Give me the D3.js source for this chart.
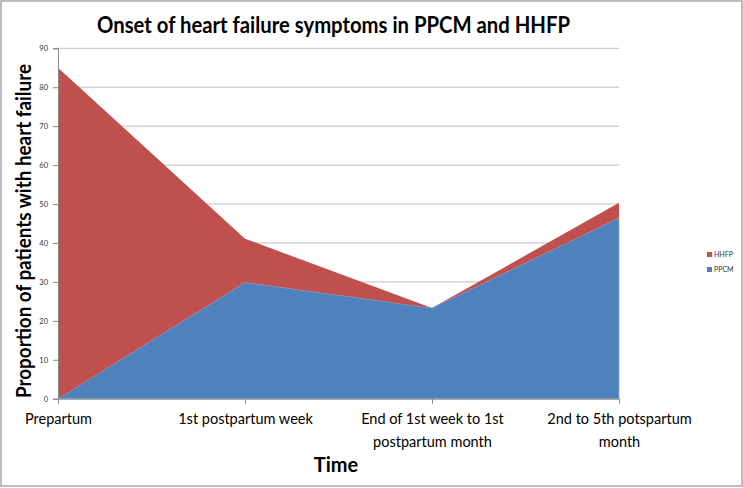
<!DOCTYPE html>
<html><head><meta charset="utf-8">
<script src="https://cdn.jsdelivr.net/npm/d3@7"></script>
<style>
html,body{margin:0;padding:0;background:#fff;}
svg{display:block;}
</style></head>
<body>
<script>
const categories = ["Prepartum","1st postpartum week","End of 1st week to 1st postpartum month","2nd to 5th potspartum month"];
const categoryLines = [["Prepartum"],["1st postpartum week"],["End of 1st week to 1st","postpartum month"],["2nd to 5th potspartum","month"]];
const ppcm = [0, 29.9, 23.3, 46.5];
const hhfp = [85, 11.2, 0, 3.8];
const seriesNames = ["PPCM","HHFP"];
const yTicks = [0,10,20,30,40,50,60,70,80,90];
const title = "Onset of heart failure symptoms in PPCM and HHFP";
const yTitle = "Proportion of patients with heart failure";
const xTitle = "Time";

const W = 743, H = 488;
const m = {left:58, top:48.3, right:124, bottom:89.3};
const colors = {PPCM:"#4F81BD", HHFP:"#C0504D"};
const font = "Lato, 'Open Sans', sans-serif";

const svg = d3.select("body").append("svg").attr("width",W).attr("height",H);
svg.append("rect").attr("x",1).attr("y",1).attr("width",W-2).attr("height",H-3)
  .attr("fill","#fff").attr("stroke","#a6a6a6").attr("stroke-width",1.5);

const x = d3.scalePoint().domain(categories).range([m.left, W-m.right]);
const y = d3.scaleLinear().domain([0,90]).range([H-m.bottom, m.top]);

// gridlines
svg.append("g").selectAll("line").data(yTicks.filter(d=>d>0)).join("line")
  .attr("x1",m.left).attr("x2",W-m.right)
  .attr("y1",d=>y(d)).attr("y2",d=>y(d))
  .attr("stroke","#bfbfbf").attr("stroke-width",1);

const table = categories.map((c,i)=>({cat:c, PPCM:ppcm[i], HHFP:hhfp[i]}));
const stacked = d3.stack().keys(seriesNames)(table);
const area = d3.area().x(d=>x(d.data.cat)).y0(d=>y(d[0])).y1(d=>y(d[1]));
svg.append("g").selectAll("path").data(stacked).join("path")
  .attr("d",area).attr("fill",d=>colors[d.key])
  .attr("stroke",d=>d.key==="PPCM"?"#8aaad4":"none").attr("stroke-width",0.8);

// y axis
const yAxis = d3.axisLeft(y).tickValues(yTicks).tickSize(5).tickPadding(5);
const gy = svg.append("g").attr("transform",`translate(${m.left},0)`).call(yAxis);
gy.select(".domain").attr("stroke","#888");
gy.selectAll(".tick line").attr("stroke","#888");
gy.selectAll(".tick text").attr("font-family",font).attr("font-size",7.5).attr("fill","#333");

// x axis
const xAxis = d3.axisBottom(x).tickSize(5).tickFormat("");
const gx = svg.append("g").attr("transform",`translate(0,${H-m.bottom})`).call(xAxis);
gx.select(".domain").attr("stroke","#888");
gx.selectAll(".tick line").attr("stroke","#888");
gx.selectAll(".tick").each(function(d,i){
  const t = d3.select(this).append("text").attr("fill","#000")
    .attr("font-family",font).attr("font-size",14.5).attr("text-anchor","middle");
  categoryLines[i].forEach((ln,j)=>{
    t.append("tspan").attr("x",0).attr("y",25+j*23).text(ln);
  });
});

// titles
svg.append("text").attr("x",333.5).attr("y",33).attr("text-anchor","middle")
  .attr("font-family",font).attr("font-weight","bold").attr("font-size",23)
  .attr("textLength",473).attr("lengthAdjust","spacingAndGlyphs").text(title);
svg.append("text").attr("transform","translate(31,231) rotate(-90)").attr("text-anchor","middle")
  .attr("font-family",font).attr("font-weight","bold").attr("font-size",21)
  .attr("textLength",334).attr("lengthAdjust","spacingAndGlyphs").text(yTitle);
svg.append("text").attr("x",336).attr("y",472).attr("text-anchor","middle")
  .attr("font-family",font).attr("font-weight","bold").attr("font-size",20).text(xTitle);

// legend
const leg = svg.append("g").attr("transform","translate(707,252)");
["HHFP","PPCM"].forEach((k,i)=>{
  const g = leg.append("g").attr("transform",`translate(0,${i*15})`);
  g.append("rect").attr("width",5).attr("height",5).attr("fill",colors[k]);
  g.append("text").attr("x",7).attr("y",5).attr("font-family",font).attr("font-size",7).attr("fill","#333").text(k);
});
</script>
</body></html>
